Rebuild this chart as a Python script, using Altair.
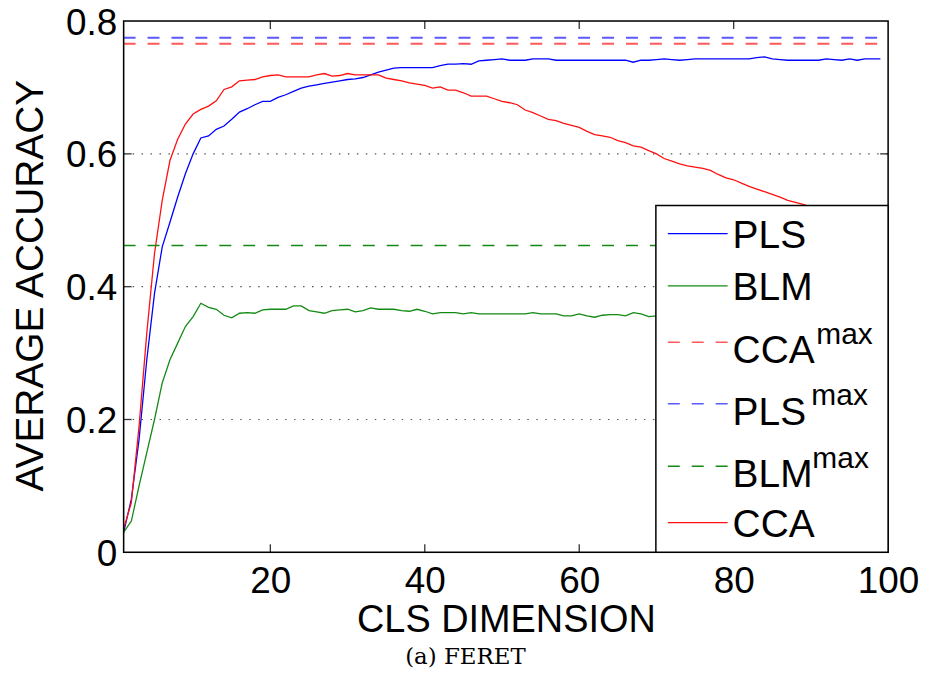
import altair as alt
import pandas as pd

# ---------------- data ----------------
dims = list(range(1, 100))

pls = [0.030, 0.080, 0.170, 0.290, 0.390, 0.460, 0.497, 0.535, 0.570, 0.600,
       0.624, 0.627, 0.637, 0.642, 0.652, 0.663, 0.668, 0.674, 0.679, 0.679,
       0.685, 0.689, 0.694, 0.699, 0.702, 0.704, 0.706, 0.708, 0.710, 0.712,
       0.713, 0.715, 0.719, 0.723, 0.726, 0.729, 0.730, 0.730, 0.730, 0.730,
       0.730, 0.733, 0.735, 0.735, 0.736, 0.735, 0.740, 0.741, 0.742, 0.743,
       0.741, 0.741, 0.741, 0.743, 0.743, 0.743, 0.741, 0.741, 0.741, 0.741,
       0.741, 0.741, 0.741, 0.741, 0.741, 0.741, 0.738, 0.741, 0.741, 0.742,
       0.743, 0.742, 0.741, 0.742, 0.743, 0.743, 0.743, 0.743, 0.743, 0.743,
       0.743, 0.743, 0.745, 0.746, 0.743, 0.742, 0.741, 0.741, 0.741, 0.741,
       0.741, 0.743, 0.742, 0.741, 0.743, 0.741, 0.743, 0.743, 0.743]

cca = [0.035, 0.075, 0.190, 0.330, 0.450, 0.530, 0.590, 0.622, 0.645, 0.660,
       0.667, 0.672, 0.680, 0.697, 0.701, 0.710, 0.711, 0.712, 0.716, 0.718,
       0.719, 0.716, 0.716, 0.716, 0.716, 0.719, 0.721, 0.717, 0.718, 0.721,
       0.719, 0.719, 0.719, 0.719, 0.714, 0.712, 0.710, 0.707, 0.705, 0.703,
       0.699, 0.701, 0.696, 0.696, 0.692, 0.687, 0.687, 0.687, 0.683, 0.679,
       0.677, 0.674, 0.666, 0.662, 0.657, 0.652, 0.650, 0.646, 0.643, 0.640,
       0.634, 0.629, 0.627, 0.625, 0.620, 0.617, 0.612, 0.610, 0.605, 0.600,
       0.593, 0.589, 0.585, 0.582, 0.580, 0.578, 0.575, 0.569, 0.564, 0.561,
       0.556, 0.551, 0.547, 0.543, 0.539, 0.535, 0.530, 0.527, 0.524, 0.520,
       0.516, 0.512, 0.508, 0.504, 0.500, 0.497, 0.494, 0.491, 0.488]

blm = [0.030, 0.047, 0.100, 0.150, 0.200, 0.255, 0.290, 0.315, 0.340, 0.355,
       0.375, 0.369, 0.366, 0.357, 0.353, 0.360, 0.361, 0.360, 0.365, 0.366,
       0.366, 0.366, 0.371, 0.371, 0.364, 0.362, 0.360, 0.364, 0.365, 0.366,
       0.362, 0.364, 0.368, 0.366, 0.366, 0.366, 0.364, 0.363, 0.366, 0.363,
       0.359, 0.361, 0.361, 0.361, 0.359, 0.361, 0.359, 0.359, 0.359, 0.359,
       0.359, 0.359, 0.359, 0.361, 0.359, 0.359, 0.359, 0.356, 0.356, 0.359,
       0.356, 0.354, 0.357, 0.358, 0.358, 0.356, 0.361, 0.359, 0.355, 0.356,
       0.357, 0.356, 0.355, 0.356, 0.357, 0.355, 0.356, 0.357, 0.356, 0.355,
       0.356, 0.357, 0.356, 0.355, 0.356, 0.357, 0.356, 0.355, 0.356, 0.356,
       0.355, 0.356, 0.357, 0.356, 0.355, 0.356, 0.356, 0.355, 0.356]

max_names = ["CCAmax", "PLSmax", "BLMmax"]
max_values = [0.766, 0.775, 0.462]

x_ticks = [20, 40, 60, 80, 100]
y_ticks = [0, 0.2, 0.4, 0.6, 0.8]
inner_x_ticks = [20, 40, 60, 80]
inner_y_ticks = [0.2, 0.4, 0.6]

legend_labels = ["PLS", "BLM", "CCA", "PLS", "BLM", "CCA"]
legend_sup = ["", "", "max", "max", "max", ""]
caption = "(a) FERET"

# ---------------- styling ----------------
W, H = 767, 533
FONT = "Liberation Sans"
col_line = {"PLS": "#0000ff", "BLM": "#138a13", "CCA": "#ff1010"}
col_max = {"CCAmax": "#ff5a5a", "PLSmax": "#5a5aff", "BLMmax": "#138a13"}

df = pd.DataFrame({
    "dim": dims * 3,
    "acc": pls + blm + cca,
    "method": ["PLS"] * len(dims) + ["BLM"] * len(dims) + ["CCA"] * len(dims),
})

xscale = alt.Scale(domain=[1, 100], nice=False, zero=False)
yscale = alt.Scale(domain=[0, 0.8], nice=False, zero=False)

xaxis = alt.Axis(values=x_ticks, title="CLS DIMENSION", labelFont=FONT, labelFontSize=37,
                 labelColor="black", titleFont=FONT, titleFontSize=38, titleFontWeight="normal",
                 titleColor="black", ticks=False, domain=False, grid=False,
                 labelPadding=11, titlePadding=2, labelFlush=False)
yaxis = alt.Axis(values=y_ticks, format=".1~f", title="AVERAGE ACCURACY", labelFont=FONT,
                 labelFontSize=37, labelColor="black", titleFont=FONT, titleFontSize=39,
                 titleFontWeight="normal", titleColor="black", ticks=False, domain=False,
                 grid=False, labelPadding=7, labelFlush=False, labelOffset=2,
                 titleX=-81, titleY=265, titleAngle=270, titleAlign="center",
                 titleBaseline="alphabetic")

one = pd.DataFrame({"a": [0]})

# dotted grid
grid = alt.Chart(pd.DataFrame({"t": inner_y_ticks})).mark_rule(
    color="#555555", strokeWidth=1.2, strokeDash=[1.5, 7.5]).encode(
    y=alt.Y("t:Q", scale=yscale), x=alt.value(0), x2=alt.value(W))

lines = alt.Chart(df).mark_line(strokeWidth=1.3, clip=True).encode(
    x=alt.X("dim:Q", scale=xscale, axis=xaxis),
    y=alt.Y("acc:Q", scale=yscale, axis=yaxis),
    color=alt.Color("method:N", scale=alt.Scale(domain=list(col_line), range=list(col_line.values())),
                    legend=None),
)

max_layers = []
for name, val in zip(max_names, max_values):
    dfm = pd.DataFrame({"x0": [dims[0]], "x1": [dims[-1]], "value": [val]})
    max_layers.append(
        alt.Chart(dfm).mark_rule(color=col_max[name], strokeWidth=2 if name != "BLMmax" else 1.6,
                                 strokeDash=[12, 12]).encode(
            x=alt.X("x0:Q", scale=xscale), x2="x1:Q", y=alt.Y("value:Q", scale=yscale))
    )

TL = 8
xt = pd.DataFrame({"t": inner_x_ticks})
yt = pd.DataFrame({"t": inner_y_ticks})
tick_style = dict(color="#333333", strokeWidth=1.3)
xt_bot = alt.Chart(xt).mark_rule(**tick_style).encode(
    x=alt.X("t:Q", scale=xscale), y=alt.value(H), y2=alt.value(H - TL))
xt_top = alt.Chart(xt).mark_rule(**tick_style).encode(
    x=alt.X("t:Q", scale=xscale), y=alt.value(0), y2=alt.value(TL))
yt_left = alt.Chart(yt).mark_rule(**tick_style).encode(
    y=alt.Y("t:Q", scale=yscale), x=alt.value(0), x2=alt.value(TL))
yt_right = alt.Chart(yt).mark_rule(**tick_style).encode(
    y=alt.Y("t:Q", scale=yscale), x=alt.value(W), x2=alt.value(W - TL))

frame = alt.Chart(one).mark_rect(filled=False, stroke="black", strokeWidth=1.5).encode(
    x=alt.value(0), x2=alt.value(W), y=alt.value(0), y2=alt.value(H))

# legend box
LX0, LX1, LY0, LY1 = 534, 767, 185, 533
legend_layers = [
    alt.Chart(one).mark_rect(fill="white", stroke="black", strokeWidth=1.5).encode(
        x=alt.value(LX0), x2=alt.value(LX1), y=alt.value(LY0), y2=alt.value(LY1))
]
line_y = [213.3, 265.7, 322.3, 384.0, 446.7, 503.3]
sup_x = [0, 0, 695, 690, 691, 0]
entry_colors = [col_line["PLS"], col_line["BLM"], col_max["CCAmax"], col_max["PLSmax"],
                col_max["BLMmax"], col_line["CCA"]]
for i, (lab, sup) in enumerate(zip(legend_labels, legend_sup)):
    dashed = sup != ""
    rule_kw = dict(color=entry_colors[i], strokeWidth=1.6 if dashed else 1.3)
    if dashed:
        rule_kw["strokeDash"] = [12, 12]
    legend_layers.append(
        alt.Chart(one).mark_rule(**rule_kw).encode(
            x=alt.value(546), x2=alt.value(606), y=alt.value(line_y[i]))
    )
    base_y = line_y[i] + (21 if dashed else 14)
    legend_layers.append(
        alt.Chart(one).mark_text(text=lab, font=FONT, fontSize=39, align="left",
                                 baseline="alphabetic", color="black").encode(
            x=alt.value(611), y=alt.value(base_y))
    )
    if dashed:
        legend_layers.append(
            alt.Chart(one).mark_text(text=sup, font=FONT, fontSize=30, align="left",
                                     baseline="alphabetic", color="black").encode(
                x=alt.value(sup_x[i]), y=alt.value(line_y[i] + 1.5))
        )

cap = alt.Chart(one).mark_text(text=caption, font="DejaVu Serif", fontSize=23, align="center",
                               baseline="alphabetic", color="black").encode(
    x=alt.value(343), y=alt.value(645))

chart = alt.layer(grid, lines, *max_layers, xt_bot, xt_top, yt_left, yt_right, frame,
                  *legend_layers, cap).properties(
    width=W, height=H,
    autosize=alt.AutoSizeParams(type="none"),
    padding={"left": 116, "top": 12, "right": 33, "bottom": 124},
).configure_view(stroke=None).configure(background="white")

chart.save("out.html", embed_options={"renderer": "svg", "actions": False})
